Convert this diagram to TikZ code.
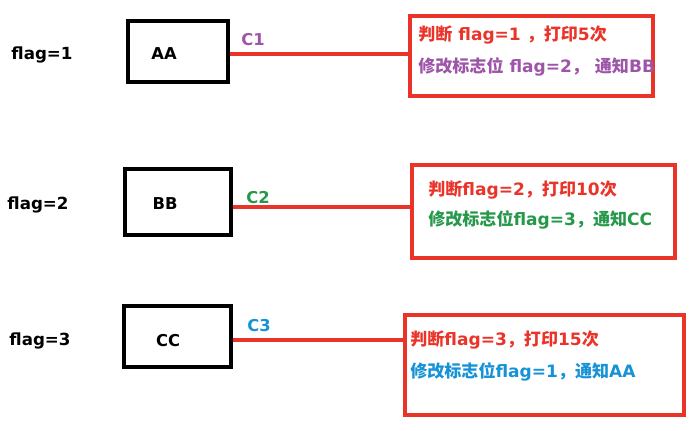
\documentclass[tikz,border=0pt]{standalone}
\usepackage{fontspec}
\setmainfont{DejaVu Sans}
\newfontfamily\cjk{Noto Sans CJK SC}
\newcommand{\zhtxt}[1]{{\cjk #1}}
\definecolor{warn}{RGB}{234,52,42}
\definecolor{plum}{RGB}{158,84,168}
\definecolor{leaf}{RGB}{38,152,74}
\definecolor{sky}{RGB}{22,146,214}
\usetikzlibrary{positioning}
\tikzset{
  thread/.style={draw=black, line width=2.2pt, fill=white, inner sep=0pt},
  tname/.style={font=\fontsize{9.3}{11}\selectfont\bfseries, inner sep=0pt},
  panel/.style={draw=warn, line width=2pt, inner sep=0pt},
  flagtxt/.style={font=\fontsize{9.5}{11}\selectfont\bfseries, inner sep=0pt},
  chan/.style={font=\fontsize{9.3}{11}\selectfont\bfseries, inner sep=0pt},
  hint/.style={font=\fontsize{9.7}{11}\selectfont\bfseries, inner sep=0pt, anchor=west},
  wire/.style={warn, line width=2pt},
}

\begin{document}
\begin{tikzpicture}[x=0.02cm,y=-0.02cm]
    \useasboundingbox (0,0) rectangle (695,431);
    % --- threads ---
    \node[thread,minimum width=2cm,minimum height=1.22cm] (AA) at (178,51.5) {};
    \node[thread,minimum width=2.12cm,minimum height=1.32cm] (BB) at (178,202) {};
    \node[thread,minimum width=2.14cm,minimum height=1.22cm] (CC) at (177.5,336.5) {};
    \node[tname] (nA) at (164,54) {AA};
    \node[tname] (nB) at (165,204) {BB};
    \node[tname] (nC) at (168,341) {CC};
    \node[flagtxt] (fA) at (42,55) {flag=1};
    \node[flagtxt] (fB) at (38,205) {flag=2};
    \node[flagtxt] (fC) at (40,341) {flag=3};
    \node[chan,plum] (cA) at (253,40) {C1};
    \node[chan,leaf] (cB) at (258,198) {C2};
    \node[chan,sky] (cC) at (259,326) {C3};
    % --- what each condition does ---
    \node[panel,minimum width=4.87cm,minimum height=1.61cm] (msgA) at (531.5,56) {};
    \node[panel,minimum width=5.27cm,minimum height=1.87cm] (msgB) at (543.5,211.5) {};
    \node[panel,minimum width=5.59cm,minimum height=2.01cm] (msgC) at (544.5,365) {};
    \node[hint,warn] (msgA1) at (418,35) {\zhtxt{判断} flag=1 \zhtxt{，打印}5\zhtxt{次}};
    \node[hint,plum] (msgA2) at (418,67) {\zhtxt{修改标志位} flag=2\zhtxt{，} \zhtxt{通知}BB};
    \node[hint,warn] (msgB1) at (428,190) {\zhtxt{判断}flag=2\zhtxt{，打印}10\zhtxt{次}};
    \node[hint,leaf] (msgB2) at (428,220) {\zhtxt{修改标志位}flag=3\zhtxt{，通知}CC};
    \node[hint,warn] (msgC1) at (410,340) {\zhtxt{判断}flag=3\zhtxt{，打印}15\zhtxt{次}};
    \node[hint,sky] (msgC2) at (410,372) {\zhtxt{修改标志位}flag=1\zhtxt{，通知}AA};
    % --- links ---
    \coordinate (tA) at ([yshift=-0.05cm]AA.east);
    \coordinate (tB) at ([yshift=-0.1cm]BB.east);
    \coordinate (tC) at ([yshift=-0.07cm]CC.east);
    \draw[wire] (tA) -- (tA -| msgA.west);
    \draw[wire] (tB) -- (tB -| msgB.west);
    \draw[wire] (tC) -- (tC -| msgC.west);
\end{tikzpicture}
\end{document}
